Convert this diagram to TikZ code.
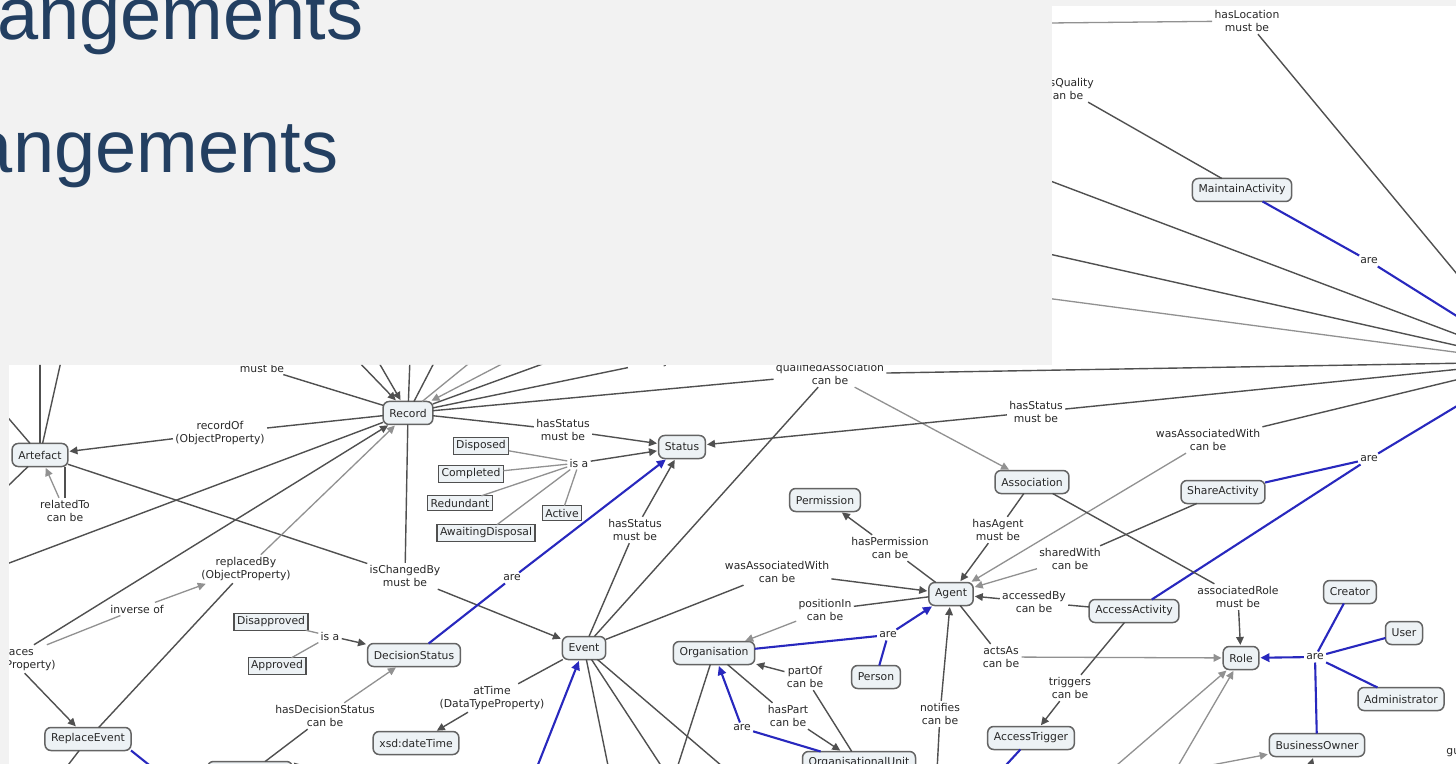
\documentclass[tikz,border=0pt]{standalone}
\usepackage{fontspec}
\newfontfamily\dv{DejaVu Sans}
\newfontfamily\ttlfont{Liberation Sans}
\usetikzlibrary{arrows.meta}
\definecolor{bgc}{RGB}{242,242,242}
\definecolor{ttc}{RGB}{35,63,97}
\definecolor{cfill}{RGB}{237,242,245}
\definecolor{cdraw}{RGB}{100,100,100}
\definecolor{leafd}{RGB}{80,80,80}
\definecolor{ctext}{RGB}{40,40,40}
\definecolor{lnc}{RGB}{80,80,80}
\definecolor{lnlc}{RGB}{145,145,145}
\definecolor{blc}{RGB}{40,40,190}
\newcommand{\dmfont}{\dv\fontsize{5.4}{6.6}\selectfont}
\begin{document}
\begin{tikzpicture}[x=0.5pt,y=-0.5pt,
  every node/.style={inner sep=0pt, outer sep=0pt},
  concept/.style={rectangle, rounded corners=3pt, draw=cdraw, line width=0.75pt, fill=cfill, text=ctext, font=\dmfont, inner xsep=3.1pt, inner ysep=0pt, minimum height=11.5pt},
  leaf/.style={rectangle, draw=leafd, line width=0.6pt, fill=cfill, text=ctext, font=\dmfont, inner xsep=1.5pt, inner ysep=1.5pt},
  lbl/.style={text=ctext, font=\dmfont, align=center, inner xsep=1.2pt, inner ysep=1.2pt},
  ln/.style={draw=lnc, line width=0.7pt},
  lnl/.style={draw=lnlc, line width=0.65pt},
  bl/.style={draw=blc, line width=1.05pt},
  arr/.style={-{Triangle[length=4pt,width=3.8pt]}, shorten >=0.8pt},
  barr/.style={-{Triangle[length=4.5pt,width=4.2pt]}, shorten >=0.8pt}]
\useasboundingbox (0,0) rectangle (1456,764);
\fill[bgc] (0,0) rectangle (1456,764);
% title
\node[anchor=base west, font=\ttlfont\fontsize{37}{40}\selectfont, text=ttc] (t1) at (-3,40) {angements};
\node[anchor=base west, font=\ttlfont\fontsize{37}{40}\selectfont, text=ttc] (t2) at (-28,173) {angements};
\begin{scope}
\clip (1052,6) rectangle (1456,365) (9,365) rectangle (1456,764);
\fill[white] (1052,6) rectangle (1456,365);
\fill[white] (9,365) rectangle (1456,764);
% coordinates
\coordinate (hub) at (1530,362);
\coordinate (offLoc) at (1000,23.5);
\coordinate (off1) at (1000,162);
\coordinate (off2) at (1000,243);
\coordinate (off3) at (1000,292);
\coordinate (tA) at (328,330);
\coordinate (tB) at (360,330);
\coordinate (tC) at (411,330);
\coordinate (tD) at (451,330);
\coordinate (tE) at (510,330);
\coordinate (tF) at (567,330);
\coordinate (tG) at (636,330);
\coordinate (offL1) at (-20,385);
\coordinate (offL2) at (-20,513);
\coordinate (offT1) at (40,330);
\coordinate (offT2) at (68,330);
\coordinate (offL3) at (-20,574);
\coordinate (offR1) at (49,790);
\coordinate (offR2) at (178,788);
\coordinate (offBx) at (325,790);
\coordinate (offB1) at (528,790);
\coordinate (offB2) at (613,790);
\coordinate (offB3) at (677,790);
\coordinate (offB4) at (750,790);
\coordinate (offB5) at (670,790);
\coordinate (offB6) at (983,790);
\coordinate (offB7) at (936,790);
\coordinate (offB8) at (1088,790);
\coordinate (offB9) at (1164,790);
\coordinate (offB10) at (1180,771);
\coordinate (offB11) at (1300,800);
% concepts
\node[concept] (rec) at (408,413) {Record};
\node[concept] (art) at (40,455) {Artefact};
\node[concept] (sta) at (682,447) {Status};
\node[concept] (per) at (825,500) {Permission};
\node[concept] (asc) at (1032,482) {Association};
\node[concept] (sha) at (1223,492) {ShareActivity};
\node[concept] (mai) at (1242,190) {MaintainActivity};
\node[concept] (agt) at (951,594) {Agent};
\node[concept] (acc) at (1134,611) {AccessActivity};
\node[concept] (rol) at (1241,658) {Role};
\node[concept] (cre) at (1350,592) {Creator};
\node[concept] (usr) at (1404,633) {User};
\node[concept] (adm) at (1401,699) {Administrator};
\node[concept] (bus) at (1317,745) {BusinessOwner};
\node[concept] (atr) at (1031,738) {AccessTrigger};
\node[concept] (org) at (714,653) {Organisation};
\node[concept] (psn) at (876,677) {Person};
\node[concept] (ou) at (859,763) {OrganisationalUnit};
\node[concept] (evt) at (584,648) {Event};
\node[concept] (dec) at (414,655) {DecisionStatus};
\node[concept] (xsd) at (416,743) {xsd:dateTime};
\node[concept] (rep) at (88,739) {ReplaceEvent};
\node[concept, minimum width=42.5pt] (bx) at (250,773) {};
% leaf boxes
\node[leaf] (disp) at (481,446) {Disposed};
\node[leaf] (comp) at (471,474) {Completed};
\node[leaf] (red) at (460,503) {Redundant};
\node[leaf] (act) at (562,513) {Active};
\node[leaf] (awd) at (486,533) {AwaitingDisposal};
\node[leaf] (dis) at (271,622) {Disapproved};
\node[leaf] (app) at (277,666) {Approved};
% labels
\node[lbl] (hasLoc) at (1247,21) {hasLocation\\must be};
\node[lbl] (hasQ) at (1065,89) {hasQuality\\can be};
\node[lbl] (are6) at (1369,261) {are};
\node[lbl] (mustbe) at (262,368) {must be};
\node[lbl, anchor=base] (exact) at (655,365) {exactly 1};
\node[lbl] (qa) at (830,374) {qualifiedAssociation\\can be};
\node[lbl] (recOf) at (220,433) {recordOf\\(ObjectProperty)};
\node[lbl] (hasSt1) at (563,430) {hasStatus\\must be};
\node[lbl] (isa1) at (579,463) {is a};
\node[lbl] (rel) at (65,511) {relatedTo\\can be};
\node[lbl] (repBy) at (246,569) {replacedBy\\(ObjectProperty)};
\node[lbl] (isCh) at (405,576) {isChangedBy\\must be};
\node[lbl] (inv) at (137,609) {inverse of};
\node[lbl] (repl) at (11,659) {replaces\\(ObjectProperty)};
\node[lbl] (isa2) at (330,636) {is a};
\node[lbl] (are1) at (512,578) {are};
\node[lbl] (hasSt2) at (635,530) {hasStatus\\must be};
\node[lbl] (hds) at (325,716) {hasDecisionStatus\\can be};
\node[lbl] (atT) at (492,698) {atTime\\(DataTypeProperty)};
\node[lbl] (waw1) at (777,572) {wasAssociatedWith\\can be};
\node[lbl] (posIn) at (825,610) {positionIn\\can be};
\node[lbl] (are2) at (888,635) {are};
\node[lbl] (partOf) at (805,677) {partOf\\can be};
\node[lbl] (hasPart) at (788,716) {hasPart\\can be};
\node[lbl] (are3) at (742,728) {are};
\node[lbl] (hasSt3) at (1036,412) {hasStatus\\must be};
\node[lbl] (waw2) at (1208,440) {wasAssociatedWith\\can be};
\node[lbl] (are4) at (1369,459) {are};
\node[lbl] (hasPerm) at (890,548) {hasPermission\\can be};
\node[lbl] (hasAg) at (998,530) {hasAgent\\must be};
\node[lbl] (shW) at (1070,559) {sharedWith\\can be};
\node[lbl] (accBy) at (1034,602) {accessedBy\\can be};
\node[lbl] (assR) at (1238,597) {associatedRole\\must be};
\node[lbl] (actsAs) at (1001,657) {actsAs\\can be};
\node[lbl] (are5) at (1315,657) {are};
\node[lbl] (trig) at (1070,688) {triggers\\can be};
\node[lbl] (notif) at (940,714) {notifies\\can be};
\node[lbl, anchor=west] (gui) at (1444,752) {gui};
% ---- connectors: top panel
\draw[lnl] (offLoc) -- (hasLoc);
\draw[ln] (hasLoc) -- (hub);
\draw[ln] (hasQ) -- (mai);
\draw[bl] (mai) -- (are6);
\draw[bl] (are6) -- (hub);
\draw[ln] (off1) -- (hub);
\draw[ln] (off2) -- (hub);
\draw[lnl] (off3) -- (hub);
% ---- Record region
\draw[ln] (mustbe) -- (rec);
\draw[ln,arr] (tA) -- (rec);
\draw[ln,arr] (tB) -- (rec);
\draw[ln] (tC) -- (rec);
\draw[ln] (tD) -- (rec);
\draw[lnl] (tE) -- (rec);
\draw[lnl,arr] (tF) -- (rec);
\draw[ln] (tG) -- (rec);
\draw[ln] (exact) -- (rec);
\draw[ln] (qa) -- (rec);
\draw[ln] (qa) -- (hub);
\draw[ln] (qa) -- (evt);
\draw[lnl,arr] (qa) -- (asc);
\draw[ln] (rec) -- (recOf);
\draw[ln,arr] (recOf) -- (art);
\draw[ln] (rec) -- (hasSt1);
\draw[ln,arr] (hasSt1) -- (sta);
\foreach \n in {disp,comp,red,awd,act} \draw[lnl] (\n) -- (isa1);
\draw[ln,arr] (isa1) -- (sta);
\coordinate (rl1) at ([xshift=-1.5pt]art.south east);
\draw[ln] (rl1) -- (rl1 |- rel.north);
\draw[lnl,arr] ([xshift=-3pt]rel.north) -- (art);
\draw[ln] (offL1) -- (art);
\draw[ln] (offL2) -- (art);
\draw[ln] (offT1) -- (art);
\draw[ln] (offT2) -- (art);
\draw[ln] (offL3) -- (rec);
\draw[ln] (art) -- (isCh);
\draw[ln] (rec) -- (isCh);
\draw[ln,arr] (isCh) -- (evt);
\draw[ln,arr] (repl) -- (rec);
\draw[lnl] (repl) -- (inv);
\draw[lnl,arr] (inv) -- (repBy);
\draw[lnl,arr] (repBy) -- (rec);
\draw[ln] (repBy) -- (rep);
\draw[ln,arr] (repl) -- (rep);
\draw[ln] (rep) -- (offR1);
\draw[bl] (rep.south east) -- (offR2);
\draw[lnl] (dis) -- (isa2);
\draw[lnl] (app) -- (isa2);
\draw[ln,arr] (isa2) -- (dec);
\draw[lnl,arr] (hds) -- (dec);
\draw[ln] (hds) -- (bx);
\draw[ln,arr] (offBx) -- (bx.north east);
\draw[bl] (dec) -- (are1);
\draw[bl,barr] (are1) -- (sta);
% ---- Event / Organisation
\draw[ln] (evt) -- (hasSt2);
\draw[ln,arr] (hasSt2) -- (sta);
\draw[ln] (evt) -- (atT);
\draw[ln,arr] (atT) -- (xsd);
\draw[bl,barr] (offB1) -- (evt);
\draw[ln] (evt) -- (offB2);
\draw[ln] (evt) -- (offB3);
\draw[ln] (evt) -- (offB4);
\draw[ln] (evt) -- (waw1);
\draw[ln,arr] (waw1) -- (agt);
\draw[ln] (agt) -- (posIn);
\draw[lnl,arr] (posIn) -- (org);
\draw[bl] (org) -- (are2);
\draw[bl] (psn) -- (are2);
\draw[bl,barr] (are2) -- (agt);
\draw[ln] (ou) -- (partOf);
\draw[ln,arr] (partOf) -- (org);
\draw[ln] (org) -- (hasPart);
\draw[ln,arr] (hasPart) -- (ou);
\draw[bl] (ou) -- (are3);
\draw[bl,barr] (are3) -- (org);
\draw[ln] (org) -- (offB5);
% ---- right side
\draw[ln,arr] (hasSt3) -- (sta);
\draw[ln] (hasSt3) -- (hub);
\draw[ln] (waw2) -- (hub);
\draw[lnl,arr] (waw2) -- (agt);
\draw[bl] (sha) -- (are4);
\draw[bl] (acc) -- (are4);
\draw[bl] (are4) -- (hub);
\draw[ln] (agt) -- (hasPerm);
\draw[ln,arr] (hasPerm) -- (per);
\draw[ln] (asc) -- (hasAg);
\draw[ln,arr] (hasAg) -- (agt);
\draw[ln] (sha) -- (shW);
\draw[lnl,arr] (shW) -- (agt);
\draw[ln] (acc) -- (accBy);
\draw[ln,arr] (accBy) -- (agt);
\draw[ln] (asc) -- (assR);
\draw[ln,arr] (assR) -- (rol);
\draw[ln] (agt) -- (actsAs);
\draw[lnl,arr] (actsAs) -- (rol);
\foreach \n in {cre,usr,adm,bus} \draw[bl] (\n) -- (are5);
\draw[bl,barr] (are5) -- (rol);
\draw[ln] (acc) -- (trig);
\draw[ln,arr] (trig) -- (atr);
\draw[bl] (atr) -- (offB6);
\draw[ln] (offB7) -- (notif);
\draw[ln,arr] (notif) -- (agt);
\draw[lnl,arr] (offB8) -- (rol);
\draw[lnl,arr] (offB9) -- (rol);
\draw[lnl,arr] (offB10) -- (bus);
\draw[ln,arr] (offB11) -- (bus);
\end{scope}
\end{tikzpicture}
\end{document}
